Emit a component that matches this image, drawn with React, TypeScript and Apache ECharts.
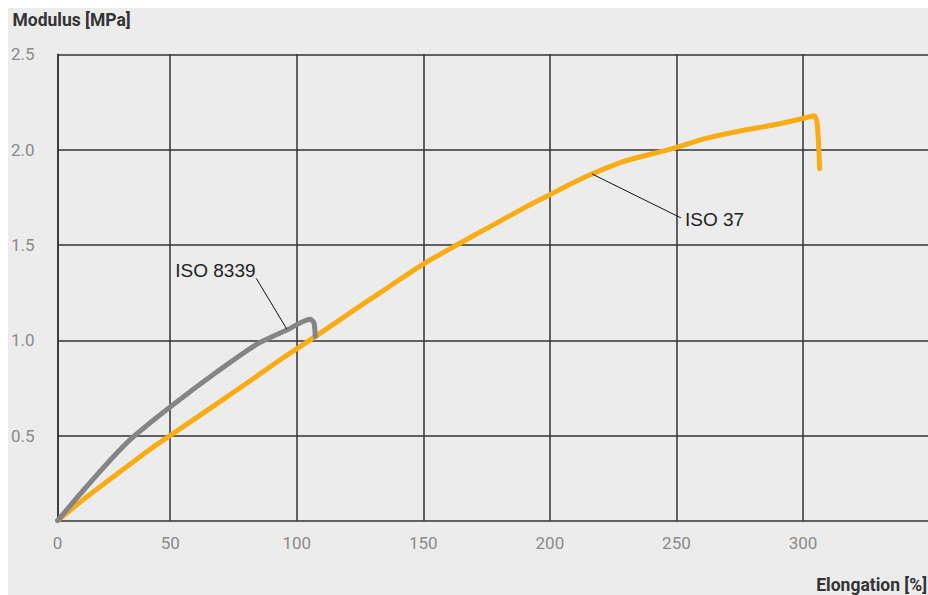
import React, { useEffect, useRef } from "react";
import * as echarts from "echarts";

// Axis extents (the corner is labelled "0")
const X_MIN = 5.5;
const X_MAX = 349.4;
const Y_MIN = 0.054;
const Y_MAX = 2.5;
const X_TICKS = [X_MIN, 50, 100, 150, 200, 250, 300];
const Y_TICKS = [0.5, 1.0, 1.5, 2.0, 2.5];

// ISO 37 curve [elongation %, modulus MPa]
const iso37: number[][] = [
  [5.5, 0.054], [15.8, 0.166], [29.0, 0.299], [42.1, 0.429], [49.7, 0.498],
  [68.5, 0.668], [81.6, 0.788], [94.8, 0.91], [107.7, 1.023], [123.7, 1.168],
  [136.9, 1.285], [150.0, 1.4], [163.2, 1.5], [176.4, 1.596], [189.5, 1.692],
  [199.8, 1.762], [208.0, 1.818], [215.9, 1.868], [229.0, 1.937], [248.8, 2.007],
  [262.0, 2.06], [275.1, 2.098], [288.3, 2.129], [300.1, 2.164], [304.4, 2.178],
  [305.6, 2.14], [306.6, 1.9],
];

// ISO 8339 curve
const iso8339: number[][] = [
  [5.5, 0.054], [15.8, 0.215], [29.0, 0.41], [35.5, 0.495], [49.7, 0.648],
  [68.5, 0.835], [84.3, 0.98], [96.1, 1.054], [105.3, 1.11], [106.8, 1.09],
  [107.3, 1.02],
];

// annotation leaders and label anchors
const iso37Leader = [[216.7, 1.872], [251.8, 1.642]];
const iso37Label = [253.4, 1.631];
const iso8339Leader = [[84.0, 1.325], [96.1, 1.058]];
const iso8339Label = [52.0, 1.365];

const ORANGE = "#F9AC14";
const GREY = "#858585";
const GRID = "#333333";
const LABEL_FONT = "Liberation Sans";

export default function App() {
  const ref = useRef<HTMLDivElement>(null);

  useEffect(() => {
    document.documentElement.style.overflow = "hidden";
    document.body.style.margin = "0";
    const chart = echarts.init(ref.current!, null, { renderer: "svg" });
    const lineStyle = { color: GRID, width: 1.5 };
    const makeAnno = (leader: number[][], anchor: number[], text: string) => ({
      markLine: {
        silent: true,
        symbol: "none",
        animation: false,
        label: { show: false },
        lineStyle: { color: "#111", width: 1, type: "solid" },
        emphasis: { disabled: true },
        data: [[{ coord: leader[0] }, { coord: leader[1] }]],
      },
      markPoint: {
        silent: true,
        animation: false,
        symbol: "circle",
        symbolSize: 0,
        data: [
          {
            coord: anchor,
            label: {
              show: true,
              position: "right",
              distance: 0,
              formatter: text,
              color: "#222",
              fontFamily: LABEL_FONT,
              fontSize: 19,
            },
          },
        ],
      },
    });

    chart.setOption({
      animation: false,
      backgroundColor: "#ececec",
      grid: { left: 49.3, right: 0, top: 46.3, bottom: 74.3, containLabel: false },
      xAxis: {
        type: "value",
        min: X_MIN,
        max: X_MAX,
        axisLine: { show: true, onZero: false, lineStyle },
        axisTick: { show: false, customValues: X_TICKS },
        axisLabel: {
          customValues: X_TICKS,
          formatter: (v: number) => (Math.abs(v - X_MIN) < 1e-6 ? "0" : String(v)),
          color: "#8a8a8a",
          fontFamily: "Roboto",
          fontSize: 17,
          margin: 14,
        },
        splitLine: { show: true, lineStyle },
      },
      yAxis: {
        type: "value",
        min: Y_MIN,
        max: Y_MAX,
        axisLine: { show: true, onZero: false, lineStyle },
        axisTick: { show: false, customValues: Y_TICKS },
        axisLabel: {
          customValues: Y_TICKS,
          formatter: (v: number) => v.toFixed(1),
          color: "#8a8a8a",
          fontFamily: "Roboto",
          fontSize: 17,
          margin: 23,
        },
        splitLine: { show: true, lineStyle },
      },
      graphic: [
        {
          type: "text",
          left: 4.5,
          top: 3,
          style: { text: "Modulus [MPa]", font: "bold 17.5px Roboto", fill: "#333" },
        },
        {
          type: "text",
          right: 1,
          top: 568,
          style: { text: "Elongation [%]", font: "bold 17.5px Roboto", fill: "#333" },
        },
      ],
      series: [
        {
          name: "ISO 37",
          type: "line",
          data: iso37,
          showSymbol: false,
          smooth: 0.25,
          lineStyle: { color: ORANGE, width: 5, cap: "round", join: "round" },
          itemStyle: { color: ORANGE },
          z: 2,
          ...makeAnno(iso37Leader, iso37Label, "ISO 37"),
        },
        {
          name: "ISO 8339",
          type: "line",
          data: iso8339,
          showSymbol: false,
          smooth: 0.25,
          lineStyle: { color: GREY, width: 5, cap: "round", join: "round" },
          itemStyle: { color: GREY },
          z: 3,
          ...makeAnno(iso8339Leader, iso8339Label, "ISO 8339"),
        },
      ],
    });
    return () => chart.dispose();
  }, []);

  return (
    <div style={{ width: 928, height: 595, background: "#fff", boxSizing: "border-box", paddingLeft: 8, paddingTop: 8 }}>
      <div ref={ref} style={{ width: 920, height: 587 }} />
    </div>
  );
}
